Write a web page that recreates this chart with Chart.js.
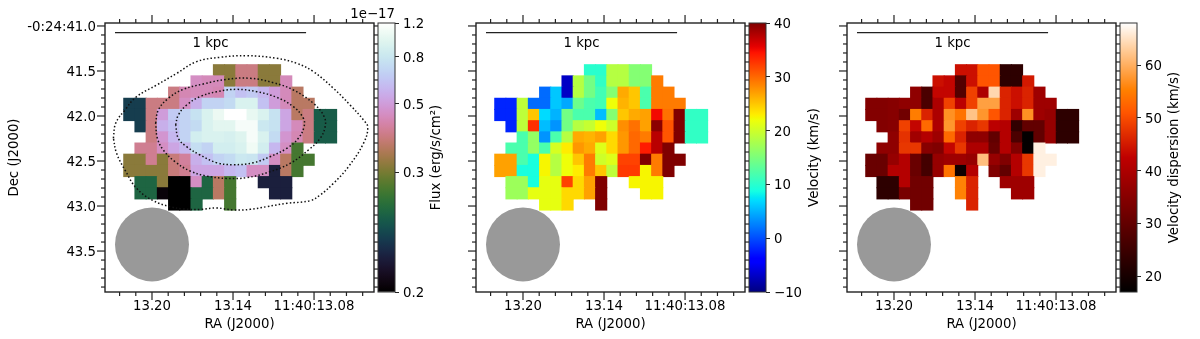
<!DOCTYPE html>
<html>
<head>
<meta charset="utf-8">
<title>Flux and velocity maps</title>
<script src="https://cdn.jsdelivr.net/npm/chart.js@4"></script>
<style>
  html, body { margin: 0; padding: 0; background: #fff; overflow: hidden; }
  #wrap { position: relative; width: 1200px; height: 339px; overflow: hidden; }
  canvas { position: absolute; top: 0; }
</style>
</head>
<body>
<div id="wrap"></div>
<script>
const _ = null;

const raCells = [13.2168, 13.2085, 13.2002, 13.1919, 13.1836, 13.1753, 13.167, 13.1587, 13.1504, 13.1421, 13.1338, 13.1255, 13.1172, 13.1089, 13.1006, 13.0923, 13.084, 13.0757, 13.0674];
const decCells = [41.492, 41.616, 41.741, 41.865, 41.989, 42.114, 42.238, 42.362, 42.486, 42.611, 42.735, 42.859, 42.983];

// flux in units of 1e-17
const fluxMap = [
  [_,_,_,_,_,_,_,_,.32,.32,.406,.406,.32,.32,_,_,_,_,_],
  [_,_,_,_,_,_,.47,.46,.46,.32,.406,.406,.32,.32,.46,_,_,_,_],
  [_,_,_,_,.406,.453,.46,.46,.453,.706,.637,.67,.6,.5,.46,.375,_,_,_],
  [.245,.245,.406,.406,.406,.47,.57,.706,.706,.74,.94,.94,.637,.5,.46,.375,.375,_,_],
  [.245,.245,.406,.5,.67,.706,.774,.94,1.07,1.2,1.2,1.04,.94,.774,.534,.375,.406,.261,.261],
  [_,.245,.406,.57,.637,.706,.74,.94,1.01,1.01,1.14,1.14,.81,.774,.534,.46,.406,.261,.261],
  [_,_,.406,.486,.6,.706,.88,.94,.94,.91,.975,1.14,.94,.74,.486,.453,.406,.261,.261],
  [_,.42,.42,.47,.534,.6,.757,.706,.88,.88,.94,1.1,.88,.6,.47,.285,_,_,_],
  [.32,.32,.42,.32,.398,.43,.57,.637,.706,.74,.81,.79,.67,.47,.375,.285,.285,_,_],
  [.32,.32,.32,.32,.398,.42,.534,.534,.534,.6,.637,.47,.47,.229,.375,.285,_,_,_],
  [_,.267,.267,.32,.2,.2,.47,.267,.375,.285,_,_,.229,.229,.229,_,_,_,_],
  [_,.267,.267,.205,.2,.2,.267,.267,.375,.285,_,_,_,.229,.229,_,_,_,_],
  [_,_,_,_,.2,.2,.267,_,_,.285,_,_,_,_,_,_,_,_,_],
];

const velocityMap = [
  [_,_,_,_,_,_,_,_,10,10,18.5,18.5,15.5,15.5,_,_,_,_,_],
  [_,_,_,_,_,_,-7,18.5,14.5,10.5,18.5,18.5,15.5,15.5,29,_,_,_,_],
  [_,_,_,_,1.5,6,-7,18.5,14.5,11.5,15.5,26.5,25,12,29,29,_,_,_],
  [-2,-2,19,1.5,1.5,6,4.5,14,12,11.5,22,26,25,12,29,29,29,_,_],
  [-2,-2,19,25,7,5,14.5,12,12,5.5,15.5,25,26.5,27,35,29.5,40,10.5,10.5],
  [_,-2,19,33,5.5,3.5,14.5,18.5,19.5,22,20,28,29.5,27,39.5,31,40,10.5,10.5],
  [_,_,12,16.5,3.5,12,18.5,26.5,26,27,24,27.5,30,29,37.5,31,40,10.5,10.5],
  [_,12,12,16.5,12,20.5,23,27.5,26.5,21,24,27.5,30,34,37.5,40,_,_,_],
  [27,27,12,9,22.5,18.5,22,25,29,20,21,32,32,40,29,40,40,_,_],
  [27,27,9,9,22.5,18.5,22,23,29,25,19,32.5,32.5,22.5,29,40,_,_,_],
  [_,17,17,9,21.5,21.5,32,24,27,40,_,_,22.5,22.5,22.5,_,_,_,_],
  [_,17,17,21.5,21.5,21.5,24,24,27,40,_,_,_,22.5,22.5,_,_,_,_],
  [_,_,_,_,21.5,21.5,24,_,_,40,_,_,_,_,_,_,_,_,_],
];

const dispersionMap = [
  [_,_,_,_,_,_,_,_,44,44,51,51,23,23,_,_,_,_,_],
  [_,_,_,_,_,_,44,43,28,44,51,51,23,23,45,_,_,_,_],
  [_,_,_,_,36,27,43,43,28,49,40,64,46,44,46,38,_,_,_],
  [34.5,34.5,35,36,36,27,40,49,42,49,58.5,58.5,46,44,46,38,38,_,_],
  [34.5,34.5,35,32,55,46,40,57,54,62,57.5,51,46,38,57,38,37,23,23],
  [_,34.5,35,49,43,53,40,57.5,49,46,48,42,41,23.5,30,30,37,23,23],
  [_,_,36,47.5,38.5,41,38,53,46,36,36,30,41,27,17.5,30,37,23,23],
  [_,36,36,48,48,35,34,43,48,40,40,31,41,34,17.5,66.5,_,_,_],
  [31,31,37,41,31,26,37,38,38,37,61.5,37,34,41,48,66.5,66.5,_,_],
  [31,31,41,41,31,26,37,54,19,41,_,34,30,41,48,66.5,_,_,_],
  [_,23,23,41,32,32,_,_,55.5,46,_,_,38,38,38,_,_,_,_],
  [_,23,23,33,32,32,_,_,55.5,46,_,_,_,38,38,_,_,_,_],
  [_,_,_,_,32,32,_,_,_,46,_,_,_,_,_,_,_,_,_],
];

// contours over the flux map, RA and Dec
const outerRa = [13.2286,13.2269,13.22,13.2114,13.1965,13.1817,13.1669,13.1496,13.1299,13.1076,13.0928,13.0805,13.0656,13.0533,13.0434,13.0402,13.0434,13.0545,13.0656,13.0755,13.0829,13.1002,13.115,13.1274,13.1397,13.1521,13.1644,13.1768,13.1867,13.199,13.2114,13.22,13.2262,13.2286];
const outerDec = [42.248,42.081,41.933,41.785,41.656,41.526,41.396,41.348,41.33,41.359,41.415,41.507,41.693,41.878,42.044,42.126,42.304,42.563,42.748,42.878,42.941,42.97,43.007,43.037,43.044,43.022,43.037,43.033,43.007,42.941,42.804,42.6,42.415,42.248];
const middleRa = [13.1973,13.1953,13.1879,13.1768,13.162,13.1447,13.1274,13.1101,13.0953,13.0805,13.0725,13.0718,13.0755,13.0842,13.0977,13.1126,13.1299,13.1447,13.1595,13.1718,13.183,13.1916,13.196,13.1973];
const middleDec = [42.081,41.933,41.804,41.704,41.644,41.593,41.581,41.63,41.711,41.859,42.007,42.119,42.248,42.378,42.526,42.619,42.685,42.693,42.667,42.611,42.507,42.378,42.248,42.081];
const innerRa = [13.1825,13.1805,13.1743,13.1644,13.1521,13.1373,13.1224,13.1076,13.0953,13.0879,13.0874,13.0916,13.1002,13.1126,13.1249,13.1397,13.1521,13.1644,13.1743,13.1805,13.1825];
const innerDec = [42.1,41.989,41.878,41.785,41.73,41.704,41.73,41.793,41.896,42.026,42.119,42.248,42.359,42.452,42.519,42.541,42.519,42.433,42.341,42.248,42.1];

const scaleBarRa = [13.2274, 13.0859];
const scaleBarDec = [41.074, 41.074];
const scaleBarLabel = "1 kpc";
const scaleBarLabelPos = [13.15665, 41.2];
const beamPos = [13.2, 43.426];

const raMajor = [13.2, 13.14, 13.08];
const raLabels = ["13.20", "13.14", "11:40:13.08"];
const raMinor = [13.224,13.212,13.188,13.176,13.164,13.152,13.128,13.116,13.104,13.092,13.068,13.056,13.044];
const decMajor = [41, 41.5, 42, 42.5, 43, 43.5];
const decLabels = ["-0:24:41.0", "41.5", "42.0", "42.5", "43.0", "43.5"];
const decMinor = [41.1,41.2,41.3,41.4,41.6,41.7,41.8,41.9,42.1,42.2,42.3,42.4,42.6,42.7,42.8,42.9,43.1,43.2,43.3,43.4,43.6,43.7,43.8,43.9];

const fluxTicks = [0.2, 0.3, 0.5, 0.8, 1.2];
const fluxTickLabels = ["0.2", "0.3", "0.5", "0.8", "1.2"];
const fluxTickFrac = [0, 0.445, 0.7, 0.875, 1];
const velocityTicks = [-10, 0, 10, 20, 30, 40];
const velocityTickLabels = ["\u221210", "0", "10", "20", "30", "40"];
const dispersionTicks = [20, 30, 40, 50, 60];
const dispersionTickLabels = ["20", "30", "40", "50", "60"];

const FONT = "'DejaVu Sans', sans-serif";
const FONT_SIZE = 13.3;
const RA_MIN = 13.0356, RA_MAX = 13.2348;
const DEC_MIN = 40.967, DEC_MAX = 43.955;
const CELL_RADIUS = 8.6; // rect point, side = radius * sqrt(2), a bit over one cell so no seams

Chart.defaults.font.family = FONT;
Chart.defaults.font.size = FONT_SIZE;
Chart.defaults.color = "#000";

function clip01(v) {
  return Math.max(0, Math.min(1, v));
}

function toCss(rgb) {
  return "rgb(" + rgb.map((c) => Math.round(clip01(c) * 255)).join(",") + ")";
}

function cubehelix(x) {
  const a = (x * (1 - x)) / 2;
  const phi = 2 * Math.PI * (0.5 / 3 - 1.5 * x);
  const c = Math.cos(phi), s = Math.sin(phi);
  return toCss([
    x + a * (-0.14861 * c + 1.78277 * s),
    x + a * (-0.29227 * c - 0.90649 * s),
    x + a * (1.97294 * c),
  ]);
}

function ramp(points, x) {
  for (let i = 1; i < points.length; i++) {
    if (x <= points[i][0]) {
      const [x0, y0] = points[i - 1], [x1, y1] = points[i];
      return y0 + ((x - x0) / (x1 - x0)) * (y1 - y0);
    }
  }
  return points[points.length - 1][1];
}

function jet(x) {
  return toCss([
    ramp([[0, 0], [0.35, 0], [0.66, 1], [0.89, 1], [1, 0.5]], x),
    ramp([[0, 0], [0.125, 0], [0.375, 1], [0.64, 1], [0.91, 0], [1, 0]], x),
    ramp([[0, 0.5], [0.11, 1], [0.34, 1], [0.65, 0], [1, 0]], x),
  ]);
}

function gistHeat(x) {
  return toCss([1.5 * x, 2 * x - 1, 4 * x - 3]);
}

function fluxFrac(v) {
  return ramp(fluxTicks.map((t, i) => [t, fluxTickFrac[i]]), v);
}

const panels = [
  { map: fluxMap, cmap: cubehelix, frac: fluxFrac, left: 0, axisW: 105, width: 380, showDec: true },
  { map: velocityMap, cmap: jet, frac: (v) => (v + 10) / 50, left: 466, axisW: 10, width: 285 },
  { map: dispersionMap, cmap: gistHeat, frac: (v) => (v - 17) / 51, left: 837, axisW: 10, width: 285 },
];

const wrap = document.getElementById("wrap");

function addCanvas(left, width) {
  const c = document.createElement("canvas");
  c.width = width;
  c.height = 339;
  c.style.left = left + "px";
  c.style.width = width + "px";
  c.style.height = "339px";
  wrap.appendChild(c);
  return c.getContext("2d");
}

const framePlugin = {
  id: "frame",
  afterDraw(chart) {
    const { ctx, chartArea: a, scales } = chart;
    const tick = (x0, y0, x1, y1) => {
      ctx.beginPath();
      ctx.moveTo(x0, y0);
      ctx.lineTo(x1, y1);
      ctx.stroke();
    };
    ctx.save();
    ctx.strokeStyle = "#222";
    ctx.lineWidth = 1.4;
    ctx.strokeRect(a.left, a.top, a.right - a.left, a.bottom - a.top);
    ctx.lineWidth = 1.2;
    [[raMajor, 8], [raMinor, 4]].forEach(([vals, len]) => vals.forEach((v) => {
      const x = scales.x.getPixelForValue(v);
      tick(x, a.top, x, a.top - len);
      tick(x, a.bottom, x, a.bottom + len);
    }));
    [[decMajor, 8], [decMinor, 4]].forEach(([vals, len]) => vals.forEach((v) => {
      const y = scales.y.getPixelForValue(v);
      tick(a.left, y, a.left - len, y);
      tick(a.right, y, a.right + len, y);
    }));
    ctx.fillStyle = "#000";
    ctx.font = FONT_SIZE + "px " + FONT;
    ctx.textAlign = "center";
    ctx.textBaseline = "middle";
    ctx.fillText(scaleBarLabel, scales.x.getPixelForValue(scaleBarLabelPos[0]), scales.y.getPixelForValue(scaleBarLabelPos[1]));
    ctx.restore();
  },
};

function contour(raList, decList) {
  return {
    data: raList.map((x, i) => ({ x, y: decList[i] })),
    showLine: true,
    tension: 0.4,
    pointRadius: 0,
    borderColor: "#111",
    borderWidth: 1.5,
    borderDash: [1.5, 2.2],
  };
}

function cellDataset(p) {
  const cells = [];
  p.map.forEach((row, r) => row.forEach((v, c) => {
    if (v !== null) cells.push({ x: raCells[c], y: decCells[r], v });
  }));
  return {
    data: cells,
    showLine: false,
    pointStyle: "rect",
    pointRadius: CELL_RADIUS,
    pointBorderWidth: 0,
    pointBackgroundColor: cells.map((d) => p.cmap(clip01(p.frac(d.v)))),
  };
}

function createPanel(p) {
  const datasets = [
    {
      data: scaleBarRa.map((x, i) => ({ x, y: scaleBarDec[i] })),
      showLine: true,
      pointRadius: 0,
      borderColor: "#222",
      borderWidth: 1.4,
    },
    {
      data: [{ x: beamPos[0], y: beamPos[1] }],
      pointStyle: "circle",
      pointRadius: 37,
      pointBorderWidth: 0,
      pointBackgroundColor: "#999",
    },
  ];
  if (p.showDec) {
    datasets.unshift(contour(outerRa, outerDec), contour(middleRa, middleDec), contour(innerRa, innerDec));
  }
  datasets.push(cellDataset(p));

  new Chart(addCanvas(p.left, p.width), {
    type: "scatter",
    data: { datasets },
    plugins: [framePlugin],
    options: {
      responsive: false,
      animation: false,
      events: [],
      layout: {
        autoPadding: false,
        padding: { left: 0, right: p.width - p.axisW - 269, top: 23, bottom: 0 },
      },
      plugins: { legend: { display: false }, tooltip: { enabled: false } },
      scales: {
        x: {
          type: "linear",
          reverse: true,
          min: RA_MIN,
          max: RA_MAX,
          grid: { display: false, drawTicks: false },
          border: { display: false },
          afterBuildTicks: (s) => { s.ticks = raMajor.map((value) => ({ value })); },
          afterFit: (s) => { s.height = 47; },
          ticks: {
            autoSkip: false,
            maxRotation: 0,
            minRotation: 0,
            padding: 7,
            callback: (v, i) => raLabels[i],
          },
          title: { display: true, text: "RA (J2000)", padding: { top: 0, bottom: 6 } },
        },
        y: {
          type: "linear",
          reverse: true,
          min: DEC_MIN,
          max: DEC_MAX,
          grid: { display: false, drawTicks: false },
          border: { display: false },
          afterBuildTicks: (s) => { s.ticks = decMajor.map((value) => ({ value })); },
          afterFit: (s) => { s.width = p.axisW; },
          ticks: {
            display: !!p.showDec,
            autoSkip: false,
            padding: 9,
            labelOffset: 1.5,
            callback: (v, i) => decLabels[i],
          },
          title: { display: !!p.showDec, text: "Dec (J2000)", padding: { top: 7, bottom: 0 } },
        },
      },
    },
  });
}

function createColorbar(cb) {
  const labelPlugin = {
    id: "cbarText",
    afterDraw(chart) {
      const { ctx, chartArea: a } = chart;
      ctx.save();
      ctx.strokeStyle = "#333";
      ctx.lineWidth = 1;
      ctx.strokeRect(a.left, a.top, a.right - a.left, a.bottom - a.top);
      ctx.fillStyle = "#000";
      ctx.font = FONT_SIZE + "px " + FONT;
      if (cb.offsetText) {
        ctx.textAlign = "right";
        ctx.textBaseline = "middle";
        ctx.fillText(cb.offsetText, a.right, 15);
      }
      ctx.translate(a.right + cb.titleOffset, (a.top + a.bottom) / 2);
      ctx.rotate(-Math.PI / 2);
      ctx.textAlign = "center";
      ctx.textBaseline = "middle";
      ctx.fillText(cb.title, 0, 0);
      ctx.restore();
    },
  };
  new Chart(addCanvas(cb.left - 45, 120), {
    type: "bar",
    data: {
      labels: ["range"],
      datasets: [
        {
          data: [[cb.min, cb.max]],
          barPercentage: 1,
          categoryPercentage: 1,
          borderWidth: 0,
          backgroundColor: (c) => {
            const a = c.chart.chartArea;
            if (!a) return "#000";
            const g = c.chart.ctx.createLinearGradient(0, a.bottom, 0, a.top);
            for (let i = 0; i <= 128; i++) g.addColorStop(i / 128, cb.cmap(i / 128));
            return g;
          },
        },
      ],
    },
    plugins: [labelPlugin],
    options: {
      responsive: false,
      animation: false,
      events: [],
      layout: { autoPadding: false, padding: { left: 45, right: 0, top: 23, bottom: 47 } },
      plugins: { legend: { display: false }, tooltip: { enabled: false } },
      scales: {
        x: { display: false },
        y: {
          position: "right",
          min: cb.min,
          max: cb.max,
          border: { display: false },
          grid: { drawOnChartArea: false, drawTicks: true, tickLength: 4, tickColor: "#222", tickWidth: 1 },
          afterBuildTicks: (s) => { s.ticks = cb.ticks.map((value) => ({ value })); },
          afterFit: (s) => { s.width = 58; },
          ticks: { autoSkip: false, padding: 4, labelOffset: 1.5, callback: (v, i) => cb.tickLabels[i] },
        },
      },
    },
  });
}

const colorbars = [
  { left: 378, cmap: cubehelix, min: 0, max: 1, ticks: fluxTickFrac, tickLabels: fluxTickLabels, title: "Flux (erg/s/cm\u00b2)", titleOffset: 42, offsetText: "1e\u221217" },
  { left: 749, cmap: jet, min: -10, max: 40, ticks: velocityTicks, tickLabels: velocityTickLabels, title: "Velocity (km/s)", titleOffset: 49 },
  { left: 1120, cmap: gistHeat, min: 17, max: 68, ticks: dispersionTicks, tickLabels: dispersionTickLabels, title: "Velocity dispersion (km/s)", titleOffset: 38 },
];

panels.forEach((p, i) => {
  createPanel(p);
  createColorbar(colorbars[i]);
});
</script>
</body>
</html>
